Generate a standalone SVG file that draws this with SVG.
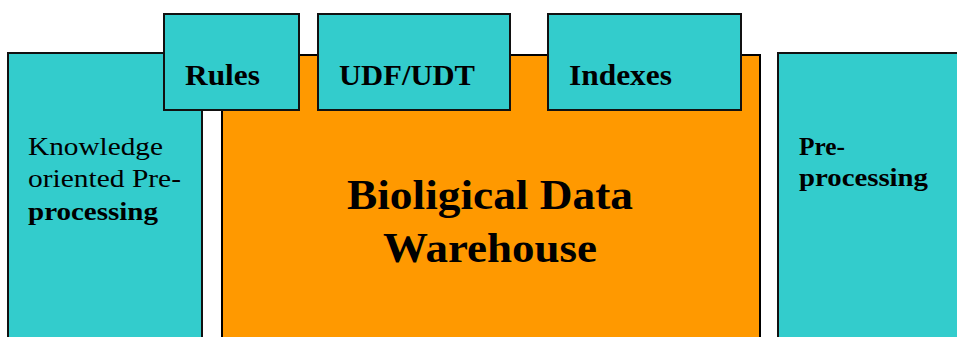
<svg xmlns="http://www.w3.org/2000/svg" width="957" height="337" viewBox="0 0 957 337">
<style>
.teal{fill:#33CCCC;stroke:#111;stroke-width:2}
.orange{fill:#FF9900;stroke:#000;stroke-width:2}
text{font-family:"Liberation Serif","DejaVu Serif",serif;fill:#000}
.b{font-weight:bold}
.lbl{font-size:29px;font-weight:bold}
.side{font-size:26px}
.title{font-size:42px;font-weight:bold;text-anchor:middle}
</style>
<rect width="957" height="337" fill="#fff"/>
<g id="knowledge-preprocessing">
<rect class="teal" x="8" y="53" width="194" height="300"/>
<text class="side" x="28" y="155" textLength="135" lengthAdjust="spacingAndGlyphs">Knowledge</text>
<text class="side" x="28" y="187" textLength="153" lengthAdjust="spacingAndGlyphs">oriented Pre-</text>
<text class="side b" x="28" y="220" textLength="130" lengthAdjust="spacingAndGlyphs">processing</text>
</g>
<g id="warehouse">
<rect class="orange" x="222" y="55" width="538" height="300"/>
<text class="title" x="490" y="209" textLength="286" lengthAdjust="spacingAndGlyphs">Bioligical Data</text>
<text class="title" x="490" y="262" textLength="214" lengthAdjust="spacingAndGlyphs">Warehouse</text>
</g>
<g id="rules">
<rect class="teal" x="164" y="14" width="135" height="96"/>
<text class="lbl" x="185" y="85" textLength="75" lengthAdjust="spacingAndGlyphs">Rules</text>
</g>
<g id="udf-udt">
<rect class="teal" x="318" y="14" width="192" height="96"/>
<text class="lbl" x="339" y="85" textLength="136" lengthAdjust="spacingAndGlyphs">UDF/UDT</text>
</g>
<g id="indexes">
<rect class="teal" x="548" y="14" width="193" height="96"/>
<text class="lbl" x="569" y="85" textLength="103" lengthAdjust="spacingAndGlyphs">Indexes</text>
</g>
<g id="preprocessing">
<rect class="teal" x="778" y="53" width="200" height="300"/>
<text class="side b" x="799" y="155" textLength="46" lengthAdjust="spacingAndGlyphs">Pre-</text>
<text class="side b" x="799" y="186" textLength="129" lengthAdjust="spacingAndGlyphs">processing</text>
</g>
<g id="connectors"></g>
</svg>
